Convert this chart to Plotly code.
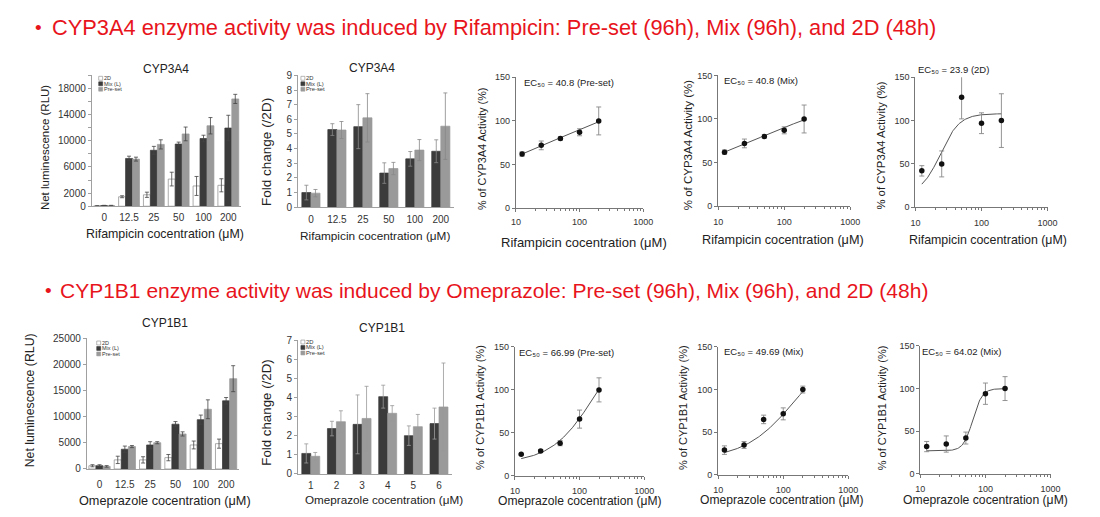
import numpy as np
import plotly.graph_objects as go

W, H = 1100, 517
FONT = "Liberation Sans, Arial, sans-serif"

# ---------------- data ----------------
conc_labels = ["0", "12.5", "25", "50", "100", "200"]
fold_labels_1b1 = ["1", "2", "3", "4", "5", "6"]
ec_conc = [12.5, 25, 50, 100, 200]
series_names = ["2D", "Mix (L)", "Pre-set"]

# CYP3A4 net luminescence
cyp3a4_rlu_2d = [50, 1450, 1750, 4150, 3100, 3200]
cyp3a4_rlu_2d_err = [30, 150, 400, 1050, 1450, 1000]
cyp3a4_rlu_mix = [100, 7300, 8550, 9500, 10350, 11950]
cyp3a4_rlu_mix_err = [40, 350, 600, 300, 500, 1950]
cyp3a4_rlu_pre = [100, 7200, 9450, 11050, 12300, 16400]
cyp3a4_rlu_pre_err = [40, 300, 700, 1050, 1250, 700]

# CYP3A4 fold change
cyp3a4_fold_mix = [1.0, 5.3, 5.5, 2.33, 3.3, 3.82]
cyp3a4_fold_mix_err = [0.5, 0.4, 1.5, 0.7, 0.5, 0.78]
cyp3a4_fold_pre = [0.96, 5.27, 6.1, 2.64, 3.9, 5.53]
cyp3a4_fold_pre_err = [0.25, 0.58, 1.65, 0.42, 0.72, 2.27]

# CYP1B1 net luminescence
cyp1b1_rlu_2d = [620, 1740, 1740, 2170, 4590, 4840]
cyp1b1_rlu_2d_err = [200, 700, 600, 600, 750, 870]
cyp1b1_rlu_mix = [620, 3780, 4590, 8560, 9430, 13030]
cyp1b1_rlu_mix_err = [200, 600, 620, 500, 870, 620]
cyp1b1_rlu_pre = [500, 4280, 5020, 6700, 11410, 17250]
cyp1b1_rlu_pre_err = [150, 200, 200, 400, 1800, 2480]

# CYP1B1 fold change
cyp1b1_fold_mix = [1.07, 2.37, 2.59, 4.04, 2.0, 2.63]
cyp1b1_fold_mix_err = [0.5, 0.38, 1.54, 0.6, 0.51, 0.81]
cyp1b1_fold_pre = [0.92, 2.73, 2.9, 3.17, 2.47, 3.5]
cyp1b1_fold_pre_err = [0.2, 0.57, 1.68, 0.4, 0.64, 2.3]

# % activity (dose response)
cyp3a4_pre_pct = [62, 72, 80, 87, 100]
cyp3a4_pre_pct_err = [2.5, 5, 2, 4, 16]
cyp3a4_mix_pct = [62, 72, 80, 87, 100]
cyp3a4_mix_pct_err = [2.5, 5, 2, 4, 16]
cyp3a4_2d_pct = [42, 50, 127, 97, 100]
cyp3a4_2d_pct_err = [6, 15, 25, 12, 31]
cyp1b1_pre_pct = [25, 29, 38, 66, 100]
cyp1b1_pre_pct_err = [1, 1.5, 3, 10.5, 14]
cyp1b1_mix_pct = [29, 35, 65, 71.5, 100]
cyp1b1_mix_pct_err = [5, 4, 5, 7, 4]
cyp1b1_mix2_pct = [32, 35, 42, 94, 100]
cyp1b1_mix2_pct_err = [6, 9.5, 7, 12.5, 14]

# fitted 4-parameter logistic curves: (bottom, top, ec50, hill)
fit_cyp3a4_pre = (22.5, 133.5, 40.8, 0.5)
fit_cyp3a4_mix = (22.5, 133.5, 40.8, 0.5)
fit_cyp3a4_2d = (15.0, 108.0, 23.9, 3.0)
fit_cyp1b1_pre = (15.0, 170.0, 170.0, 1.3)
fit_cyp1b1_mix = (18.0, 160.0, 160.0, 1.1)
fit_cyp1b1_mix2 = (27.0, 100.0, 64.0, 6.0)

ec_labels = ["EC₅₀ = 40.8 (Pre-set)", "EC₅₀ = 40.8 (Mix)",
             "EC₅₀ = 23.9 (2D)", "EC₅₀ = 66.99 (Pre-set)",
             "EC₅₀ = 49.69 (Mix)", "EC₅₀ = 64.02 (Mix)"]

header1 = "CYP3A4 enzyme activity was induced by Rifampicin: Pre-set (96h), Mix (96h), and 2D (48h)"
header2 = "CYP1B1 enzyme activity was induced by Omeprazole: Pre-set (96h), Mix (96h), and 2D (48h)"
xtitle_rif = "Rifampicin cocentration (μM)"
xtitle_ome = "Omeprazole cocentration (μM)"

# ---------------- helpers ----------------
def xd(a, b):
    return [a / W, b / W]

def yd(top, bottom):
    return [1 - bottom / H, 1 - top / H]

def px(x):
    return x / W

def py(y):
    return 1 - y / H

COL_2D = "#ffffff"
COL_MIX = "#3b3b3b"
COL_PRE = "#9a9a9a"
RED = "#e8141c"

fig = go.Figure()
layout = {}
annotations = []
shapes = []

def txt(text, x, y, size, color="#222", xanchor="center", angle=0):
    annotations.append(dict(text=text, x=px(x), y=py(y), xref="paper", yref="paper",
                            xanchor=xanchor, yanchor="middle", showarrow=False, textangle=angle,
                            font=dict(size=size, color=color, family=FONT)))

def bar_axes(i, dom_x, dom_y, yrange, tickvals, minorvals, cats, lab_standoff):
    sx = "" if i == 1 else str(i)
    layout["xaxis" + sx] = dict(
        domain=xd(*dom_x), anchor="y" + sx, type="category",
        categoryorder="array", categoryarray=cats, range=[-0.5, len(cats) - 0.5],
        showline=True, linecolor="#a0a0a0", linewidth=1, ticks="",
        ticklabelstandoff=lab_standoff,
        tickfont=dict(size=10, color="#333"), showgrid=False, zeroline=False,
    )
    ya = dict(
        domain=yd(*dom_y), anchor="x" + sx, range=yrange,
        tickvals=tickvals, ticktext=[str(v) for v in tickvals],
        showline=True, linecolor="#a0a0a0", linewidth=1, ticks="outside",
        ticklen=3, tickcolor="#a0a0a0",
        tickfont=dict(size=10, color="#333"), showgrid=False, zeroline=False,
    )
    if minorvals:
        ya["minor"] = dict(tickvals=minorvals, ticks="outside", ticklen=3, tickcolor="#a0a0a0")
    layout["yaxis" + sx] = ya

def add_bar(i, cats, vals, errs, color, line, width, offset, errcol):
    sx = "" if i == 1 else str(i)
    fig.add_trace(go.Bar(
        x=cats, y=vals, width=width, offset=offset,
        marker=dict(color=color, line=dict(color=line, width=0.7)),
        error_y=dict(type="data", array=errs, color=errcol, thickness=0.8, width=2),
        xaxis="x" + sx, yaxis="y" + sx, showlegend=False,
    ))

def manual_legend(x0, y0, dy, box, fsize):
    cols = [(COL_2D, "#888"), (COL_MIX, COL_MIX), (COL_PRE, COL_PRE)]
    for k, (name, (fc, lc)) in enumerate(zip(series_names, cols)):
        yc = y0 + k * dy
        shapes.append(dict(type="rect", xref="paper", yref="paper",
                           x0=px(x0), x1=px(x0 + box), y0=py(yc + box / 2), y1=py(yc - box / 2),
                           fillcolor=fc, line=dict(color=lc, width=0.6)))
        annotations.append(dict(text=name, x=px(x0 + box), y=py(yc), xref="paper", yref="paper",
                                xanchor="left", yanchor="middle", showarrow=False, borderpad=0,
                                font=dict(size=fsize, color="#333", family=FONT)))

def log_axes(i, dom_x, dom_y, lab_standoff):
    sx = "" if i == 1 else str(i)
    minor_vals = [m * d for d in (10, 100) for m in range(2, 10)]
    layout["xaxis" + sx] = dict(
        domain=xd(*dom_x), anchor="y" + sx, type="log", range=[1, 3],
        tickvals=[10, 100, 1000], ticktext=["10", "100", "1000"],
        showline=True, linecolor="#777", linewidth=1, ticks="outside", ticklen=3,
        tickcolor="#777", ticklabelstandoff=lab_standoff,
        minor=dict(tickvals=minor_vals, ticks="outside", ticklen=2, tickcolor="#777"),
        tickfont=dict(size=9, color="#333"), showgrid=False, zeroline=False,
    )
    layout["yaxis" + sx] = dict(
        domain=yd(*dom_y), anchor="x" + sx, range=[0, 150], tickvals=[0, 50, 100, 150],
        showline=True, linecolor="#777", linewidth=1, ticks="outside", ticklen=3, tickcolor="#777",
        tickfont=dict(size=9, color="#333"), showgrid=False, zeroline=False,
    )

def logistic(params, x):
    b, t, c, h = params
    return b + (t - b) / (1 + (c / x) ** h)

def add_dose(i, vals, errs, fit):
    sx = "" if i == 1 else str(i)
    xs = np.logspace(np.log10(ec_conc[0]), np.log10(ec_conc[-1]), 120)
    fig.add_trace(go.Scatter(x=xs, y=logistic(fit, xs), mode="lines",
                             line=dict(color="#555", width=1), xaxis="x" + sx, yaxis="y" + sx,
                             showlegend=False, hoverinfo="skip"))
    fig.add_trace(go.Scatter(x=ec_conc, y=vals, mode="markers",
                             marker=dict(color="#111", size=5.5),
                             error_y=dict(type="data", array=errs, color="#888", thickness=0.9, width=2.5),
                             xaxis="x" + sx, yaxis="y" + sx, showlegend=False))

bw = 0.28
fw = 0.35

# ---------------- row 1 ----------------
bar_axes(1, (88, 239), (71, 205), [0, 20000], [0, 2000, 6000, 10000, 14000, 18000],
         [4000, 8000, 12000, 16000, 20000], conc_labels, 2)
add_bar(1, conc_labels, cyp3a4_rlu_2d, cyp3a4_rlu_2d_err, COL_2D, "#888", bw, -1.5 * bw, "#444")
add_bar(1, conc_labels, cyp3a4_rlu_mix, cyp3a4_rlu_mix_err, COL_MIX, COL_MIX, bw, -0.5 * bw, "#444")
add_bar(1, conc_labels, cyp3a4_rlu_pre, cyp3a4_rlu_pre_err, COL_PRE, COL_PRE, bw, 0.5 * bw, "#444")
manual_legend(95, 74, 5.6, 4, 5.5)
txt("CYP3A4", 163, 65, 12)
txt(xtitle_rif, 162, 233, 12.4)
txt("Net luminescence (RLU)", 40, 145, 11.5, angle=-90)

bar_axes(2, (297, 455), (71, 206), [0, 9], list(range(0, 10)), None, conc_labels, 3)
add_bar(2, conc_labels, cyp3a4_fold_mix, cyp3a4_fold_mix_err, COL_MIX, COL_MIX, fw, -fw, "#888")
add_bar(2, conc_labels, cyp3a4_fold_pre, cyp3a4_fold_pre_err, COL_PRE, COL_PRE, fw, 0, "#888")
manual_legend(300, 74, 5.6, 4, 5.8)
txt("CYP3A4", 372, 63, 12)
txt(xtitle_rif, 375, 235, 11.8)
txt("Fold change (/2D)", 265, 149, 13.5, angle=-90)

log_axes(3, (518, 647), (73, 207), 2)
add_dose(3, cyp3a4_pre_pct, cyp3a4_pre_pct_err, fit_cyp3a4_pre)
txt(xtitle_rif, 587, 242, 13)
txt("% of CYP3A4 Activity (%)", 483, 146, 10.8, angle=-90)

log_axes(4, (723, 857), (71, 205), 4)
add_dose(4, cyp3a4_mix_pct, cyp3a4_mix_pct_err, fit_cyp3a4_mix)
txt(xtitle_rif, 789, 240, 12.7)
txt("% of CYP3A4 Activity (%)", 692, 142, 11.5, angle=-90)

log_axes(5, (923, 1057), (73, 206), 4)
add_dose(5, cyp3a4_2d_pct, cyp3a4_2d_pct_err, fit_cyp3a4_2d)
txt(xtitle_rif, 997, 240, 12.4)
txt("% of CYP3A4 Activity (%)", 888, 143, 11.3, angle=-90)

# ---------------- row 2 ----------------
bar_axes(6, (83, 237), (340, 474), [0, 25000], list(range(0, 25001, 5000)), None, conc_labels, 6)
add_bar(6, conc_labels, cyp1b1_rlu_2d, cyp1b1_rlu_2d_err, COL_2D, "#888", bw, -1.5 * bw, "#444")
add_bar(6, conc_labels, cyp1b1_rlu_mix, cyp1b1_rlu_mix_err, COL_MIX, COL_MIX, bw, -0.5 * bw, "#444")
add_bar(6, conc_labels, cyp1b1_rlu_pre, cyp1b1_rlu_pre_err, COL_PRE, COL_PRE, bw, 0.5 * bw, "#444")
manual_legend(93, 345, 5.6, 4, 5.5)
txt("CYP1B1", 162, 325, 12)
txt(xtitle_ome, 162, 507, 12.7)
txt("Net luminescence (RLU)", 25, 404, 12.3, angle=-90)

bar_axes(7, (297, 453), (342, 479), [0, 7], list(range(0, 8)), None, fold_labels_1b1, 2)
add_bar(7, fold_labels_1b1, cyp1b1_fold_mix, cyp1b1_fold_mix_err, COL_MIX, COL_MIX, fw, -fw, "#999")
add_bar(7, fold_labels_1b1, cyp1b1_fold_pre, cyp1b1_fold_pre_err, COL_PRE, COL_PRE, fw, 0, "#999")
manual_legend(300, 344, 5.6, 4, 5.8)
txt("CYP1B1", 382, 330, 12)
txt(xtitle_ome, 384, 505, 11.7)
txt("Fold change (/2D)", 265, 416, 13.3, angle=-90)

log_axes(8, (517, 648), (349, 481), 3)
add_dose(8, cyp1b1_pre_pct, cyp1b1_pre_pct_err, fit_cyp1b1_pre)
txt(xtitle_ome, 583, 507, 12.1)
txt("% of CYP1B1 Activity (%)", 482, 411, 11, angle=-90)

log_axes(9, (723, 855), (349, 480), 3)
add_dose(9, cyp1b1_mix_pct, cyp1b1_mix_pct_err, fit_cyp1b1_mix)
txt(xtitle_ome, 788, 506, 12.1)
txt("% of CYP1B1 Activity (%)", 688, 411, 11, angle=-90)

log_axes(10, (928, 1060), (348, 479), 3)
add_dose(10, cyp1b1_mix2_pct, cyp1b1_mix2_pct_err, fit_cyp1b1_mix2)
txt(xtitle_ome, 994, 506, 12.2)
txt("% of CYP1B1 Activity (%)", 890, 411, 11, angle=-90)

# ---------------- headers & EC50 labels ----------------
txt("•", 34, 22, 19, RED)
txt(header1, 46, 22, 21.8, RED, "left")
txt("•", 44, 291, 19, RED)
txt(header2, 54, 291, 21, RED, "left")

ec_pos = [(524, 78), (727, 76), (924, 65), (519, 355), (727, 354), (928, 354)]
for lab, (x, y) in zip(ec_labels, ec_pos):
    txt(lab, x, y, 9.5, "#222", "left")

layout.update(
    width=W, height=H, margin=dict(l=0, r=0, t=0, b=0),
    paper_bgcolor="white", plot_bgcolor="white",
    font=dict(family=FONT, color="#222"),
    showlegend=False, annotations=annotations, shapes=shapes,
    barmode="overlay", hovermode=False,
)
fig.update_layout(**layout)
fig.write_html(
    "out.html",
    config={"displayModeBar": False, "staticPlot": True},
    post_script="document.body.style.margin='0';document.body.style.padding='0';"
                "document.documentElement.style.overflow='hidden';",
)
